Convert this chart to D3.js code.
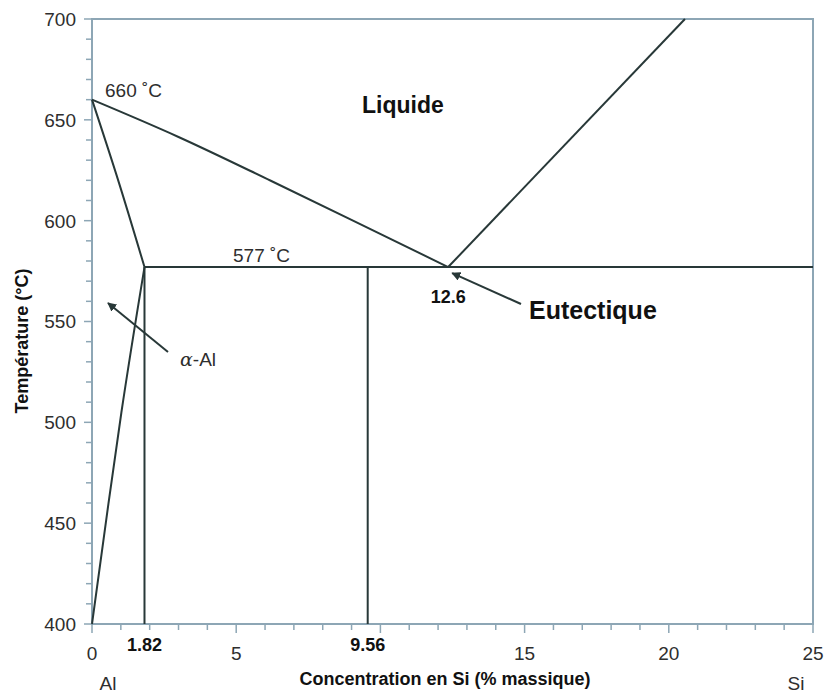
<!DOCTYPE html>
<html><head><meta charset="utf-8">
<script src="https://cdn.jsdelivr.net/npm/d3@7"></script>
<style>body{margin:0;background:#fff}svg{display:block}</style>
</head><body><svg id="c" width="827" height="693"></svg>
<script>
// ---- data ----
const xTickLabels = [0, 5, 15, 20, 25];
const xSpecialLabels = [1.82, 9.56];
const yTickLabels = [400, 450, 500, 550, 600, 650, 700];
const eutecticT = 577;
const meltT = 660;
const eutecticX = 12.35;      // drawn position of the eutectic point
const eutecticLabel = "12.6";
const liquidusAl = [[0,660],[3.0,641.5],[6.2,619.8],[12.35,577]];
const liquidusSi = [[12.35,577],[20.56,700]];
const solidus = [[0,660],[0.93,619],[1.82,577]];
const solvus = [[1.82,577],[1.02,505],[0,400]];
const eutecticLine = [[1.82,577],[25,577]];
const vertical182 = [[1.82,577],[1.82,400]];
const vertical956 = [[9.56,577],[9.56,400]];

const svg = d3.select("#c");
const x = d3.scaleLinear().domain([0,25]).range([92,813]);
const y = d3.scaleLinear().domain([400,700]).range([624,19]);
const axisCol = "#8da6b5", lineCol = "#283838", txtCol = "#2e2e2e";
const font = "'Liberation Sans', Arial, sans-serif";

svg.append("defs").append("marker").attr("id","ah").attr("viewBox","0 0 10 10")
  .attr("refX",9).attr("refY",5).attr("markerWidth",9).attr("markerHeight",9)
  .attr("markerUnits","userSpaceOnUse").attr("orient","auto")
  .append("path").attr("d","M0,0 L10,5 L0,10 Z").attr("fill",lineCol);

// frame
svg.append("path").attr("d",`M${x(0)},${y(400)} V${y(700)} H${x(25)} V${y(400)} Z`)
  .attr("fill","none").attr("stroke",axisCol).attr("stroke-width",2);

// y ticks
const yMinor = d3.range(400, 701, 10);
svg.append("g").selectAll("line").data(yMinor).join("line")
  .attr("x1", d => d % 50 === 0 ? x(0)-8 : x(0)-6).attr("x2", x(0))
  .attr("y1", d => y(d)).attr("y2", d => y(d))
  .attr("stroke", axisCol).attr("stroke-width", 1.5);
svg.append("g").selectAll("text").data(yTickLabels).join("text")
  .attr("x", 76).attr("y", d => y(d)).attr("dy","0.36em").attr("text-anchor","end")
  .attr("font-family",font).attr("font-size",19).attr("fill",txtCol).text(d => d);

// x ticks
const xMinor = d3.range(0, 26, 1);
svg.append("g").selectAll("line").data(xMinor).join("line")
  .attr("x1", d => x(d)).attr("x2", d => x(d))
  .attr("y1", y(400)).attr("y2", d => d % 5 === 0 ? y(400)+9 : y(400)+6)
  .attr("stroke", axisCol).attr("stroke-width", 1.5);
svg.append("g").selectAll("text").data(xTickLabels).join("text")
  .attr("x", d => x(d)).attr("y", 660).attr("text-anchor","middle")
  .attr("font-family",font).attr("font-size",19).attr("fill",txtCol).text(d => d);
svg.append("g").selectAll("text").data(xSpecialLabels).join("text")
  .attr("x", d => x(d)).attr("y", 651).attr("text-anchor","middle")
  .attr("font-family",font).attr("font-weight","bold").attr("font-size",18).attr("fill","#111").text(d => d);

// phase lines
const line = d3.line().x(d => x(d[0])).y(d => y(d[1]));
const smooth = d3.line().x(d => x(d[0])).y(d => y(d[1])).curve(d3.curveCatmullRom.alpha(0.5));
[eutecticLine, vertical182, vertical956, liquidusSi].forEach(p =>
  svg.append("path").attr("d", line(p)).attr("fill","none").attr("stroke",lineCol).attr("stroke-width",2));
[liquidusAl, solidus, solvus].forEach(p =>
  svg.append("path").attr("d", smooth(p)).attr("fill","none").attr("stroke",lineCol).attr("stroke-width",2));

// annotations
function txt(t, px, py, size, bold, anchor){
  return svg.append("text").attr("x",px).attr("y",py).attr("font-family",font)
    .attr("font-size",size).attr("font-weight",bold?"bold":"normal")
    .attr("fill", bold ? "#111" : txtCol).attr("text-anchor",anchor||"start").text(t);
}
txt(meltT + " ˚C", x(0)+13, y(meltT)-3, 19, false);
txt(eutecticT + " ˚C", 233, y(eutecticT)-5, 19, false);
txt("Liquide", 362, 113, 23, true);
txt(eutecticLabel, x(eutecticX), 303, 18, true, "middle");
txt("Eutectique", 529, 319, 25, true);
const aa = svg.append("text").attr("x",180).attr("y",366).attr("font-family",font)
  .attr("font-size",19).attr("fill",txtCol);
aa.append("tspan").attr("font-style","italic").attr("font-family","'DejaVu Serif', serif").text("α");
aa.append("tspan").text("-Al");

svg.append("line").attr("x1",168).attr("y1",352).attr("x2",108).attr("y2",303)
  .attr("stroke",lineCol).attr("stroke-width",2).attr("marker-end","url(#ah)");
svg.append("line").attr("x1",521).attr("y1",304).attr("x2",x(eutecticX)+4).attr("y2",y(eutecticT)+6)
  .attr("stroke",lineCol).attr("stroke-width",2).attr("marker-end","url(#ah)");

// axis titles
svg.append("text").attr("transform",`translate(28,${341}) rotate(-90)`).attr("text-anchor","middle")
  .attr("font-family",font).attr("font-weight","bold").attr("font-size",18).attr("fill","#111")
  .text("Température (°C)");
svg.append("text").attr("x",445).attr("y",685).attr("text-anchor","middle")
  .attr("font-family",font).attr("font-weight","bold").attr("font-size",18).attr("fill","#111")
  .text("Concentration en Si (% massique)");
txt("Al", 108, 690, 19, false, "middle");
txt("Si", 796, 690, 19, false, "middle");
</script></body></html>
